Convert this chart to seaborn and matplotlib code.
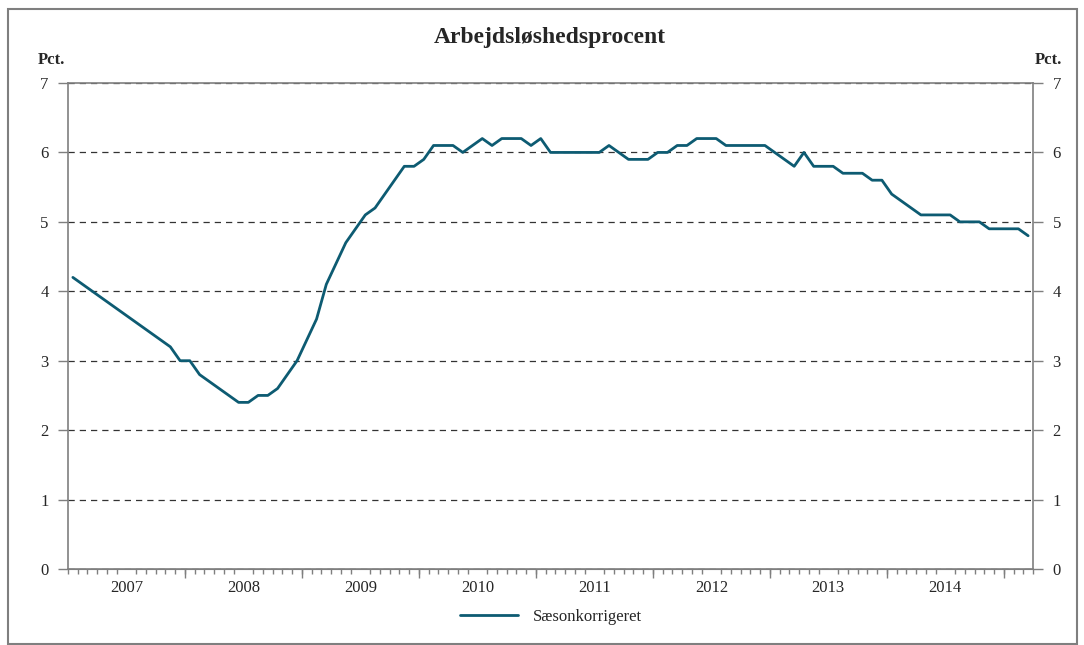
import numpy as np
import pandas as pd
import matplotlib
matplotlib.use("Agg")
import matplotlib.pyplot as plt
import matplotlib.ticker as mticker
from matplotlib.patches import Rectangle
import seaborn as sns

TITLE = "Arbejdsløshedsprocent"
UNIT = "Pct."
SERIES_NAME = "Sæsonkorrigeret"
YEARS = [2007, 2008, 2009, 2010, 2011, 2012, 2013, 2014]
Y_TICKS = [0, 1, 2, 3, 4, 5, 6, 7]

# monthly, seasonally adjusted, Jan 2007 - Mar 2015
UNEMPLOYMENT = [
    4.2, 4.1, 4.0, 3.9, 3.8, 3.7, 3.6, 3.5, 3.4, 3.3, 3.2, 3.0,  # 2007
    3.0, 2.8, 2.7, 2.6, 2.5, 2.4, 2.4, 2.5, 2.5, 2.6, 2.8, 3.0,  # 2008
    3.3, 3.6, 4.1, 4.4, 4.7, 4.9, 5.1, 5.2, 5.4, 5.6, 5.8, 5.8,  # 2009
    5.9, 6.1, 6.1, 6.1, 6.0, 6.1, 6.2, 6.1, 6.2, 6.2, 6.2, 6.1,  # 2010
    6.2, 6.0, 6.0, 6.0, 6.0, 6.0, 6.0, 6.1, 6.0, 5.9, 5.9, 5.9,  # 2011
    6.0, 6.0, 6.1, 6.1, 6.2, 6.2, 6.2, 6.1, 6.1, 6.1, 6.1, 6.1,  # 2012
    6.0, 5.9, 5.8, 6.0, 5.8, 5.8, 5.8, 5.7, 5.7, 5.7, 5.6, 5.6,  # 2013
    5.4, 5.3, 5.2, 5.1, 5.1, 5.1, 5.1, 5.0, 5.0, 5.0, 4.9, 4.9,  # 2014
    4.9, 4.9, 4.8,                                                # 2015
]

LINE_COLOR = "#0d5b72"
SPINE_COLOR = "#7f7f7f"


def build_frame():
    n = len(UNEMPLOYMENT)
    return pd.DataFrame({
        "month": np.arange(n) + 0.5,   # centred in each month slot
        "pct": UNEMPLOYMENT,
    })


def plot_unemployment(df: pd.DataFrame):
    sns.set_style("white")
    plt.rcParams["font.family"] = ["Liberation Serif", "DejaVu Serif"]

    fig = plt.figure(figsize=(10.84, 6.45), dpi=100)
    ax = fig.add_axes([68 / 1084, 1 - 569 / 645, 965 / 1084, 486 / 645])

    sns.lineplot(data=df, x="month", y="pct", ax=ax, color=LINE_COLOR,
                 linewidth=2.0, label=SERIES_NAME, legend=False)

    n = len(df)
    ax.set_xlim(0, n)
    ax.set_ylim(Y_TICKS[0], Y_TICKS[-1])
    ax.set_xlabel("")
    ax.set_ylabel("")

    # y axis: both sides
    ax.set_yticks(Y_TICKS)
    ax.tick_params(axis="y", which="major", direction="out", length=7,
                   width=1, color=SPINE_COLOR, labelsize=12, pad=7,
                   left=True, right=True, labelleft=True, labelright=True)
    ax.yaxis.grid(True, linestyle=(0, (5, 4)), color="#333333", linewidth=0.9)
    ax.set_axisbelow(True)

    # x axis: year labels in the middle, month ticks
    year_mid = [12 * k + 6 for k in range(len(YEARS))]
    ax.set_xticks(year_mid)
    ax.set_xticklabels([str(y) for y in YEARS])
    ax.xaxis.set_minor_locator(mticker.FixedLocator(np.arange(0, n + 1)))
    ax.tick_params(axis="x", which="major", length=0, labelsize=12, pad=8)
    ax.tick_params(axis="x", which="minor", direction="out", length=3.5,
                   width=1, color=SPINE_COLOR, bottom=True)

    sec = ax.secondary_xaxis("bottom")
    sec.set_xticks([12 * k for k in range(1, n // 12 + 1)])
    sec.set_xticklabels([])
    sec.tick_params(axis="x", direction="out", length=6.5, width=1,
                    color=SPINE_COLOR, bottom=True)
    sec.spines["bottom"].set_color(SPINE_COLOR)

    for side in ["left", "right", "top", "bottom"]:
        ax.spines[side].set_visible(True)
        ax.spines[side].set_color(SPINE_COLOR)
        ax.spines[side].set_linewidth(1.2)
        ax.spines[side].set_zorder(5)

    fig.text(550 / 1084, 1 - 38 / 645, TITLE, ha="center", va="center",
             fontsize=17, fontweight="bold")
    fig.text(38 / 1084, 1 - 60 / 645, UNIT, ha="left", va="center",
             fontsize=12, fontweight="bold")
    fig.text(1062 / 1084, 1 - 60 / 645, UNIT, ha="right", va="center",
             fontsize=12, fontweight="bold")

    handles, labels = ax.get_legend_handles_labels()
    fig.legend(handles, labels, loc="center",
               bbox_to_anchor=(551 / 1084, 1 - 617 / 645), frameon=False,
               fontsize=12, handlelength=3.5, handletextpad=0.9)

    fig.patches.append(Rectangle((8 / 1084, 1 / 645), 1069 / 1084, 635 / 645,
                                 transform=fig.transFigure, fill=False,
                                 edgecolor=SPINE_COLOR, linewidth=1.5))

    fig.savefig("out.png", dpi=100, facecolor="white")


def main():
    df = build_frame()
    plot_unemployment(df)


if __name__ == "__main__":
    main()
